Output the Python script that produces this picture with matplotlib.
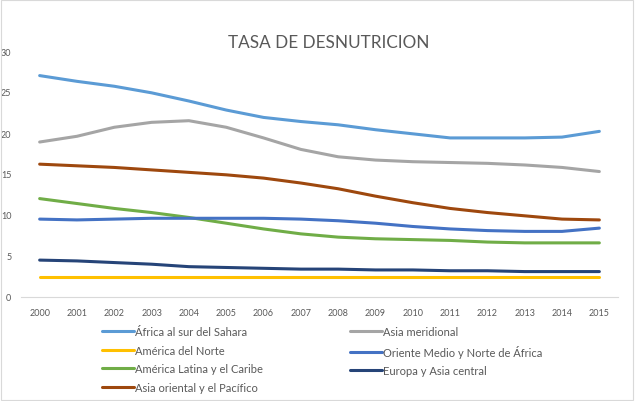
import matplotlib
matplotlib.use("Agg")
import matplotlib.pyplot as plt
from matplotlib.patches import Rectangle

years = [str(y) for y in range(2000, 2016)]

africa_sur_sahara = [27.0, 26.3, 25.7, 24.9, 23.9, 22.8, 21.9, 21.4, 21.0, 20.4, 19.9, 19.4, 19.4, 19.4, 19.5, 20.2]
asia_meridional   = [18.9, 19.6, 20.7, 21.3, 21.5, 20.7, 19.4, 18.0, 17.1, 16.7, 16.5, 16.4, 16.3, 16.1, 15.8, 15.3]
america_norte     = [2.5] * 16
oriente_medio     = [9.5, 9.4, 9.5, 9.6, 9.6, 9.6, 9.6, 9.5, 9.3, 9.0, 8.6, 8.3, 8.1, 8.0, 8.0, 8.4]
america_latina    = [12.0, 11.4, 10.8, 10.3, 9.7, 9.0, 8.3, 7.7, 7.3, 7.1, 7.0, 6.9, 6.7, 6.6, 6.6, 6.6]
europa_asia_c     = [4.5, 4.4, 4.2, 4.0, 3.7, 3.6, 3.5, 3.4, 3.4, 3.3, 3.3, 3.2, 3.2, 3.1, 3.1, 3.1]
asia_oriental     = [16.2, 16.0, 15.8, 15.5, 15.2, 14.9, 14.5, 13.9, 13.2, 12.3, 11.5, 10.8, 10.3, 9.9, 9.5, 9.4]

series = [
    ("África al sur del Sahara", africa_sur_sahara, "#5B9BD5"),
    ("América del Norte", america_norte, "#FFC000"),
    ("América Latina y el Caribe", america_latina, "#70AD47"),
    ("Asia oriental y el Pacífico", asia_oriental, "#9E480E"),
    ("Asia meridional", asia_meridional, "#A5A5A5"),
    ("Oriente Medio y Norte de África", oriente_medio, "#4472C4"),
    ("Europa y Asia central", europa_asia_c, "#264478"),
]

plt.rcParams['font.family'] = ['Lato', 'DejaVu Sans']

fig = plt.figure(figsize=(6.35, 4.02), dpi=100)
ax = fig.add_axes([21/635, 1-298/402, (618-21)/635, (298-52)/402])

x = list(range(len(years)))
for name, vals, col in series:
    ax.plot(x, vals, color=col, lw=2.2, label=name, solid_capstyle='round')

ax.set_xlim(-0.5, len(years) - 0.5)
ax.set_ylim(0, 30)
ax.set_yticks([0, 5, 10, 15, 20, 25, 30])
ax.set_xticks(x)
ax.set_xticklabels(years)
ax.tick_params(axis='both', length=0, labelsize=6.5, colors="#595959")
ax.tick_params(axis='y', pad=7)
ax.tick_params(axis='x', pad=8)
for s in ['top', 'right', 'left']:
    ax.spines[s].set_visible(False)
ax.spines['bottom'].set_color("#D9D9D9")

fig.text(329/635, 1-43/402, "TASA DE DESNUTRICION", ha='center', va='center',
         fontsize=12.3, color="#595959")

leg = fig.legend(loc='upper left', bbox_to_anchor=(102/635, 1-327/402), ncol=2,
                 frameon=False, fontsize=8, handlelength=2.9, handletextpad=0.1,
                 columnspacing=7.8, labelspacing=0.68, borderaxespad=0, borderpad=0)
for t in leg.get_texts():
    t.set_color("#595959")

fig.patches.append(Rectangle((0.002, 0.002), 1-2/635-0.002, 0.995, transform=fig.transFigure,
                             fill=False, edgecolor="#D9D9D9", lw=0.8))

fig.savefig("out.png", dpi=100)
